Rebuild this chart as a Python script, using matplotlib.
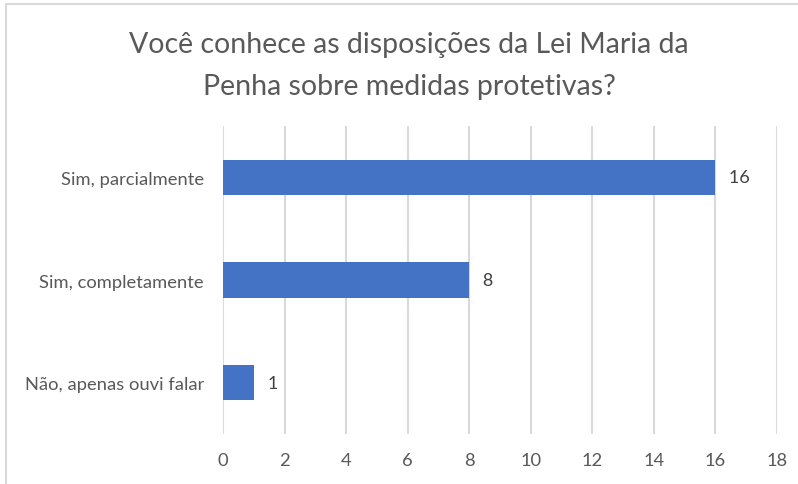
import matplotlib
matplotlib.use('Agg')
import matplotlib.pyplot as plt
from matplotlib.patches import Rectangle

plt.rcParams['font.family'] = ['Lato', 'DejaVu Sans']

categorias = ['Não, apenas ouvi falar', 'Sim, completamente', 'Sim, parcialmente']
valores = [1, 8, 16]
xticks = list(range(0, 20, 2))

cinza = '#595959'
azul = '#4472C4'

fig = plt.figure(figsize=(7.98, 4.85), dpi=100)
ax = fig.add_axes([0.2798, 0.1031, 0.6935, 0.635])

ax.barh(range(len(categorias)), valores, height=0.345, color=azul, zorder=3)
for i, v in enumerate(valores):
    ax.text(v, i, '   ' + str(v), va='center', ha='left', fontsize=13, color='#404040')

ax.set_xlim(0, 18)
ax.set_ylim(-0.5, len(categorias) - 0.5)
ax.set_xticks(xticks)
ax.set_yticks(range(len(categorias)))
ax.set_yticklabels(categorias)
ax.tick_params(axis='both', length=0, labelsize=13.2, labelcolor=cinza)
ax.tick_params(axis='y', pad=14)
ax.tick_params(axis='x', pad=13)
ax.grid(axis='x', color='#D9D9D9', lw=1.5, zorder=0)
for s in ax.spines.values():
    s.set_visible(False)

fig.text(0.5125, 0.864, 'Você conhece as disposições da Lei Maria da\nPenha sobre medidas protetivas?',
         ha='center', va='center', fontsize=20.5, color=cinza, linespacing=1.72)

# moldura do gráfico
fig.patches.append(Rectangle((6 / 798, -0.1), 1.2, 1 - 5 / 485 + 0.1, transform=fig.transFigure,
                             fill=False, edgecolor='#D9D9D9', lw=1.5))

fig.savefig('out.png', dpi=100)
